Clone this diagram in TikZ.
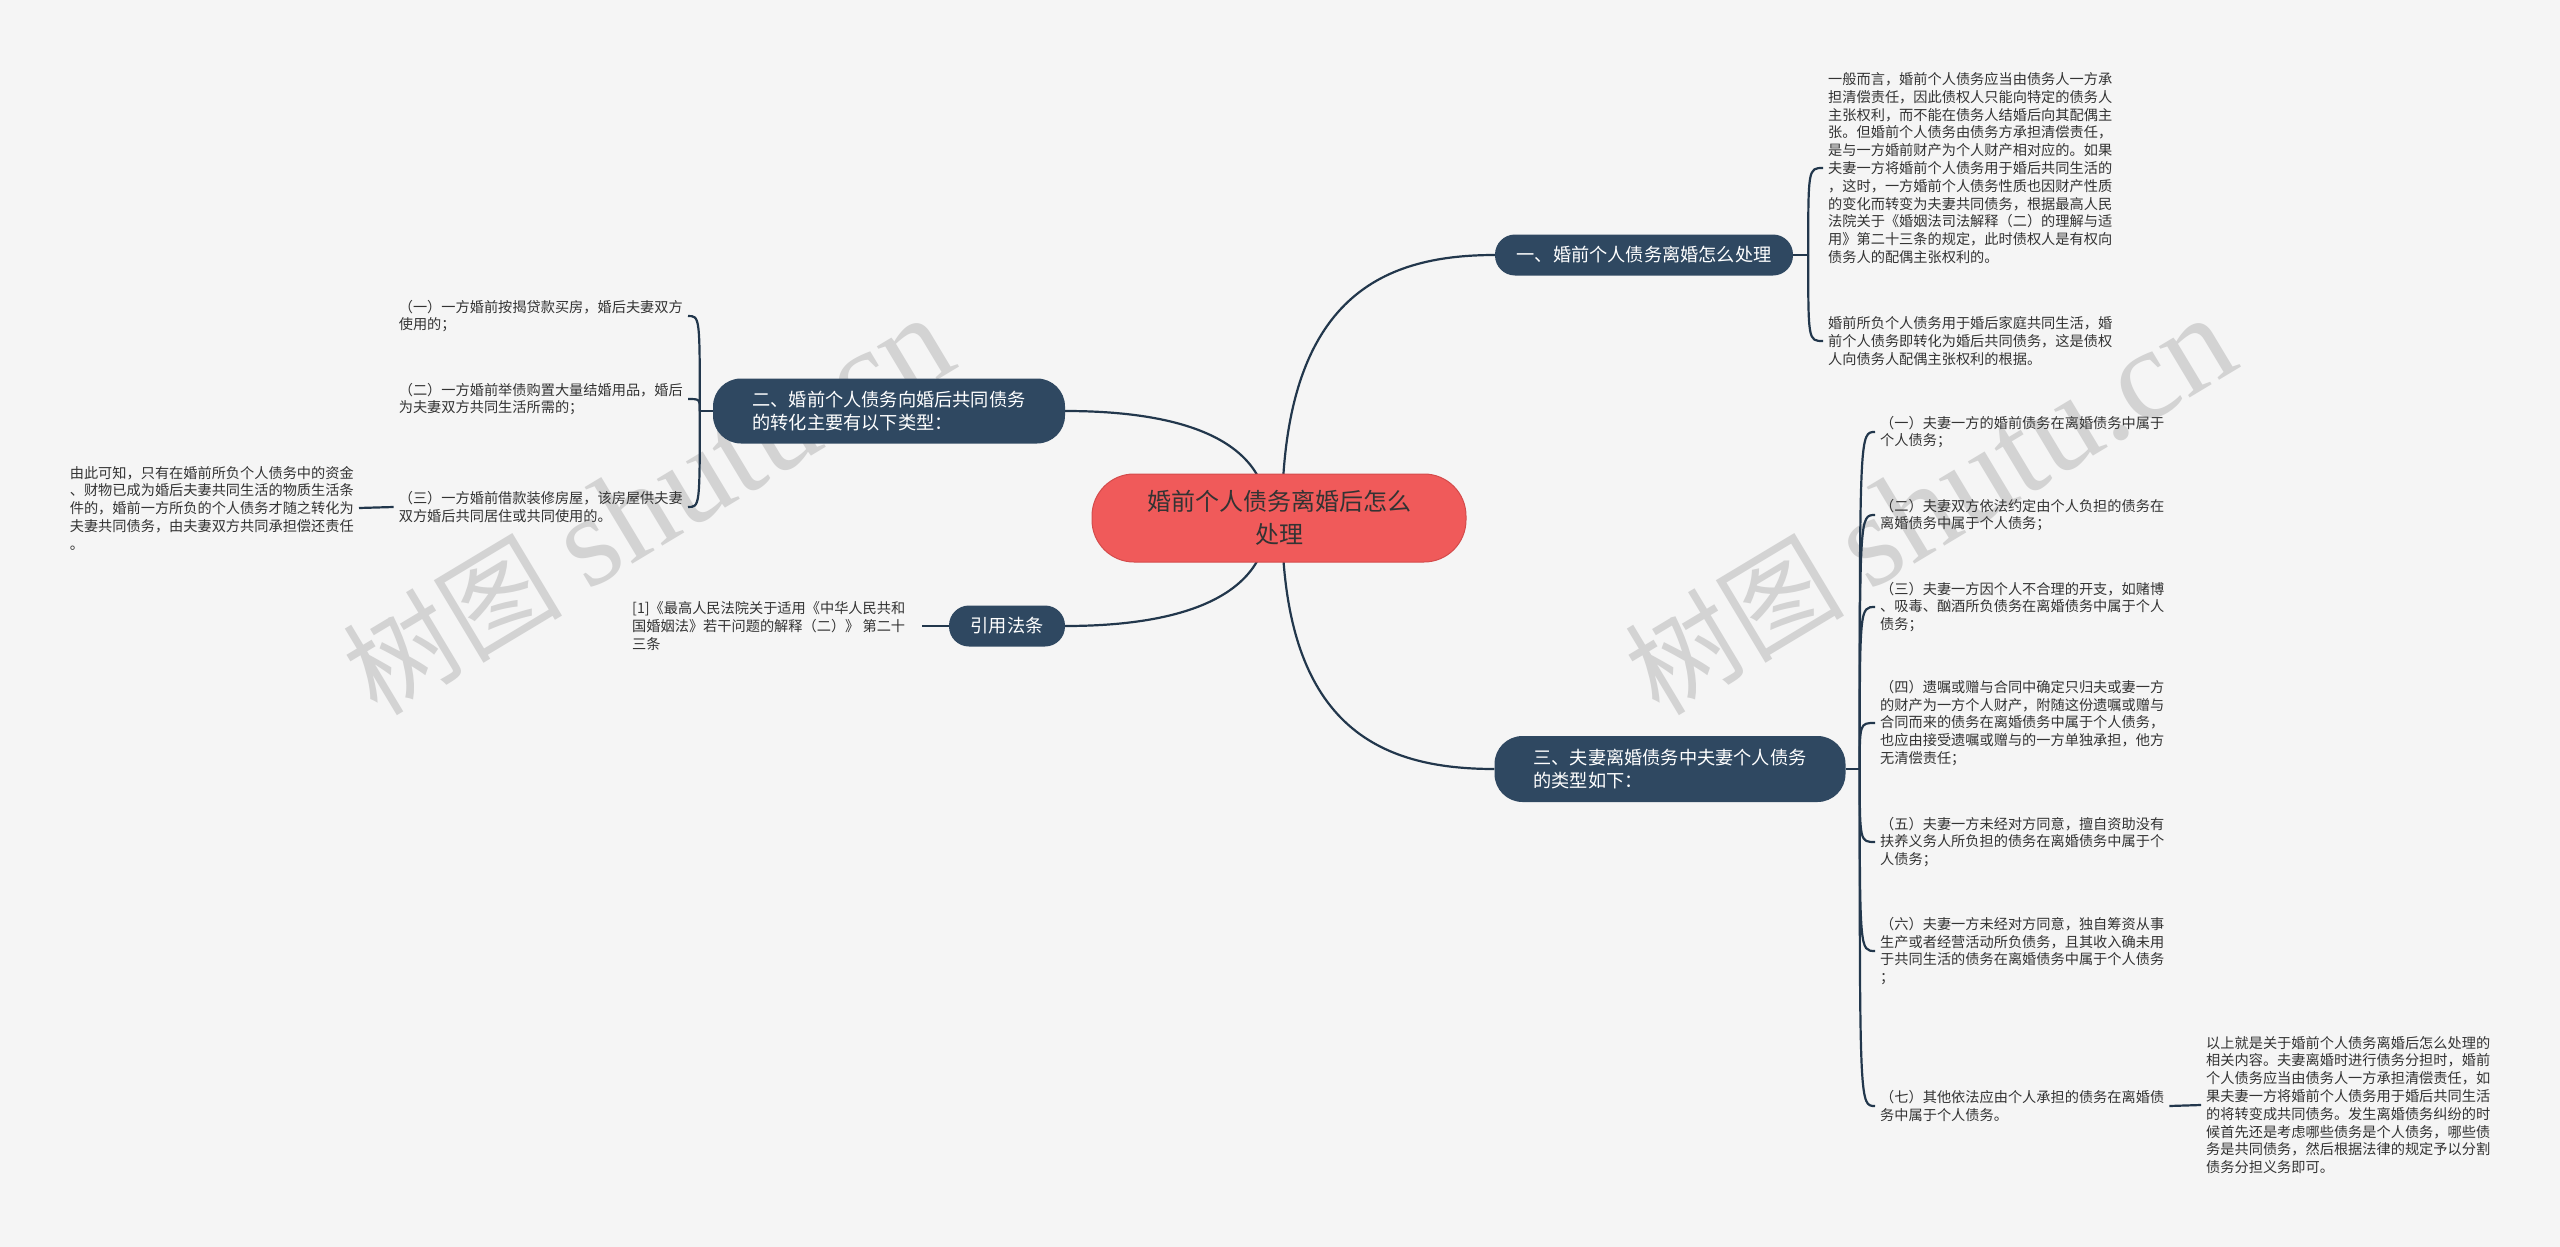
\documentclass[tikz,border=0pt]{standalone}
\usepackage{fontspec}
\setmainfont{Noto Sans CJK SC}
\newfontfamily\wmserif{Liberation Serif}
\usetikzlibrary{backgrounds}
\definecolor{bgc}{HTML}{F5F5F5}
\definecolor{rootc}{HTML}{F05A5A}
\definecolor{rootb}{HTML}{D44B4B}
\definecolor{brc}{HTML}{2F4861}
\definecolor{linec}{HTML}{22374C}
\definecolor{txtc}{HTML}{333333}
\definecolor{wmc}{HTML}{D3D3D3}
\begin{document}
\begin{tikzpicture}[x=1pt,y=-1pt,
  rootbox/.style={fill=rootc, draw=rootb, line width=1pt, rounded corners=42pt, minimum width=374pt, minimum height=88pt, align=center, text=txtc, font=\fontsize{24}{33}\selectfont, inner sep=0pt},
  branchbox/.style={fill=brc, rounded corners=20pt, text=white, align=left, font=\fontsize{18.2}{23}\selectfont, inner sep=0pt},
  leaf/.style={text=txtc, align=left, font=\fontsize{14.2}{17.8}\selectfont, inner xsep=5pt, inner ysep=2pt},
  conn/.style={draw=linec, line width=2.2pt},
  wm/.style={text=wmc, rotate=31, font=\fontsize{110}{110}\selectfont}
]
\useasboundingbox (0,0) rectangle (2560,1247);

% root and branches
\node[rootbox] (root) at (1279,518) {婚前个人债务离婚后怎么\\处理};
\node[branchbox, minimum width=298pt, minimum height=41pt] (b1) at (1644,255) {一、婚前个人债务离婚怎么处理};
\node[branchbox, rounded corners=28pt, minimum width=352pt, minimum height=65pt] (b2) at (889,411) {二、婚前个人债务向婚后共同债务\\的转化主要有以下类型：};
\node[branchbox, minimum width=116pt, minimum height=41pt] (b4) at (1007,626) {引用法条};
\node[branchbox, rounded corners=28pt, minimum width=351pt, minimum height=66pt] (b3) at (1670,769) {三、夫妻离婚债务中夫妻个人债务\\的类型如下：};

% branch 1 leaves
\node[leaf, anchor=west] (a1) at (1823,168) {一般而言，婚前个人债务应当由债务人一方承\\担清偿责任，因此债权人只能向特定的债务人\\主张权利，而不能在债务人结婚后向其配偶主\\张。但婚前个人债务由债务方承担清偿责任，\\是与一方婚前财产为个人财产相对应的。如果\\夫妻一方将婚前个人债务用于婚后共同生活的\\，这时，一方婚前个人债务性质也因财产性质\\的变化而转变为夫妻共同债务，根据最高人民\\法院关于《婚姻法司法解释（二）的理解与适\\用》第二十三条的规定，此时债权人是有权向\\债务人的配偶主张权利的。};
\node[leaf, anchor=west] (a2) at (1823,341) {婚前所负个人债务用于婚后家庭共同生活，婚\\前个人债务即转化为婚后共同债务，这是债权\\人向债务人配偶主张权利的根据。};

% branch 2 leaves
\node[leaf, anchor=east] (d1) at (688,316) {（一）一方婚前按揭贷款买房，婚后夫妻双方\\使用的；};
\node[leaf, anchor=east] (d2) at (688,399) {（二）一方婚前举债购置大量结婚用品，婚后\\为夫妻双方共同生活所需的；};
\node[leaf, anchor=east] (d3) at (688,507) {（三）一方婚前借款装修房屋，该房屋供夫妻\\双方婚后共同居住或共同使用的。};
\node[leaf, anchor=east] (g1) at (359,508) {由此可知，只有在婚前所负个人债务中的资金\\、财物已成为婚后夫妻共同生活的物质生活条\\件的，婚前一方所负的个人债务才随之转化为\\夫妻共同债务，由夫妻双方共同承担偿还责任\\。};

% reference leaf
\node[leaf, anchor=west] (r1) at (627,626) {[1]《最高人民法院关于适用《中华人民共和\\国婚姻法》若干问题的解释（二）》 第二十\\三条};

% branch 3 leaves
\node[leaf, anchor=west] (c1) at (1875,432) {（一）夫妻一方的婚前债务在离婚债务中属于\\个人债务；};
\node[leaf, anchor=west] (c2) at (1875,515) {（二）夫妻双方依法约定由个人负担的债务在\\离婚债务中属于个人债务；};
\node[leaf, anchor=west] (c3) at (1875,607) {（三）夫妻一方因个人不合理的开支，如赌博\\、吸毒、酗酒所负债务在离婚债务中属于个人\\债务；};
\node[leaf, anchor=west] (c4) at (1875,723) {（四）遗嘱或赠与合同中确定只归夫或妻一方\\的财产为一方个人财产，附随这份遗嘱或赠与\\合同而来的债务在离婚债务中属于个人债务，\\也应由接受遗嘱或赠与的一方单独承担，他方\\无清偿责任；};
\node[leaf, anchor=west] (c5) at (1875,842) {（五）夫妻一方未经对方同意，擅自资助没有\\扶养义务人所负担的债务在离婚债务中属于个\\人债务；};
\node[leaf, anchor=west] (c6) at (1875,951) {（六）夫妻一方未经对方同意，独自筹资从事\\生产或者经营活动所负债务，且其收入确未用\\于共同生活的债务在离婚债务中属于个人债务\\；};
\node[leaf, anchor=west] (c7) at (1875,1106) {（七）其他依法应由个人承担的债务在离婚债\\务中属于个人债务。};
\node[leaf, anchor=west] (c8) at (2201,1105) {以上就是关于婚前个人债务离婚后怎么处理的\\相关内容。夫妻离婚时进行债务分担时，婚前\\个人债务应当由债务人一方承担清偿责任，如\\果夫妻一方将婚前个人债务用于婚后共同生活\\的将转变成共同债务。发生离婚债务纠纷的时\\候首先还是考虑哪些债务是个人债务，哪些债\\务是共同债务，然后根据法律的规定予以分割\\债务分担义务即可。};

\begin{pgfonlayer}{background}
  \fill[bgc] (0,0) rectangle (2560,1247);
  % watermarks
  \node[wm] (wm1) at (648,506) {树图 {\wmserif\fontsize{130}{130}\selectfont shutu.cn}};
  \node[wm] (wm2) at (1930,506) {树图 {\wmserif\fontsize{130}{130}\selectfont shutu.cn}};
  % root connectors
  \draw[conn] ([xshift=3pt]root.center) .. controls +(0,-218) and +(-116,0) .. (b1.west);
  \draw[conn] ([xshift=-11pt]root.center) .. controls +(0,-78) and +(118,0) .. (b2.east);
  \draw[conn] ([xshift=-11pt]root.center) .. controls +(0,78) and +(118,0) .. (b4.east);
  \draw[conn] ([xshift=3pt]root.center) .. controls +(0,208) and +(-116,0) .. (b3.west);
  % branch 1 bracket
  \coordinate (j1) at ([xshift=15pt]b1.east);
  \draw[conn] (b1.east) -- (j1);
  \foreach \n in {a1,a2} \draw[conn] (j1) .. controls (j1 |- \n.west) .. (\n.west);
  % branch 2 bracket
  \coordinate (j2) at ([xshift=-13pt]b2.west);
  \draw[conn] (b2.west) -- (j2);
  \foreach \n in {d1,d2,d3} \draw[conn] (j2) .. controls (j2 |- \n.east) .. (\n.east);
  \draw[conn] (g1.east) -- (d3.west);
  % reference
  \draw[conn] ([xshift=12pt]r1.east) -- (b4.west);
  % branch 3 bracket
  \coordinate (j3) at ([xshift=14pt]b3.east);
  \draw[conn] (b3.east) -- (j3);
  \foreach \n in {c1,c2,c3,c4,c5,c6,c7} \draw[conn] (j3) .. controls (j3 |- \n.west) .. (\n.west);
  \draw[conn] (c7.east) -- (c8.west);
\end{pgfonlayer}
\end{tikzpicture}
\end{document}
